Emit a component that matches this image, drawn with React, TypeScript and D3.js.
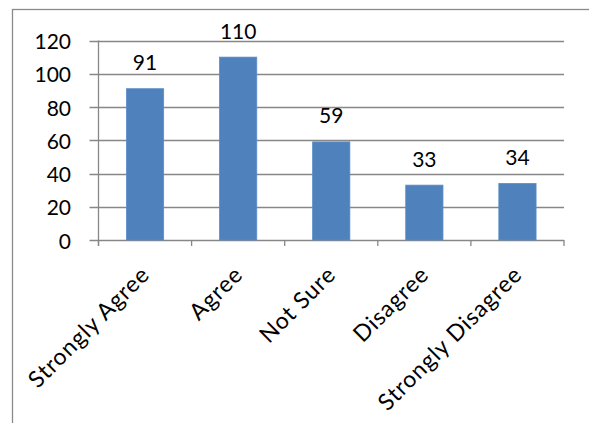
import React from "react";
import * as d3 from "d3";

const categories = ["Strongly Agree", "Agree", "Not Sure", "Disagree", "Strongly Disagree"];
const values = [91, 110, 59, 33, 34];
const yTicks = [0, 20, 40, 60, 80, 100, 120];

const W = 589;
const H = 423;
const plot = { left: 98.5, right: 564, top: 40.5, bottom: 240 };
const FONT = "Lato, 'Open Sans', sans-serif";
const GRID = "#878787";
const BAR = "#4F81BD";

export default function App() {
  const x = d3
    .scaleBand<string>()
    .domain(categories)
    .range([plot.left, plot.right])
    .paddingInner(0.6)
    .paddingOuter(0.3);
  const y = d3.scaleLinear().domain([0, 120]).range([plot.bottom, plot.top]);
  const step = x.step();
  const boundaries = d3.range(categories.length + 1).map((i) => plot.left + i * step);

  return (
    <svg
      width={W}
      height={H}
      style={{ position: "absolute", left: 0, top: 0, background: "#fff" }}
      fontFamily={FONT}
    >
      <rect x={0} y={0} width={W} height={H} fill="#fff" />
      <rect x={12.5} y={9.5} width={W + 20} height={H + 20} fill="none" stroke="#8a8a8a" strokeWidth={1.3} />
      {/* gridlines */}
      {yTicks.map((t) => (
        <line
          key={"g" + t}
          x1={plot.left - 9}
          x2={plot.right}
          y1={Math.round(y(t)) + 0.5}
          y2={Math.round(y(t)) + 0.5}
          stroke={GRID}
          strokeWidth={1.3}
        />
      ))}
      {/* y axis */}
      <line x1={plot.left} x2={plot.left} y1={plot.top} y2={plot.bottom + 6} stroke={GRID} strokeWidth={1.3} />
      {/* x axis tick marks */}
      {boundaries.map((bx, i) => (
        <line key={"xt" + i} x1={bx} x2={bx} y1={plot.bottom} y2={plot.bottom + 6} stroke={GRID} strokeWidth={1.3} />
      ))}
      {/* y tick labels */}
      {yTicks.map((t) => (
        <text
          key={"yl" + t}
          x={71}
          y={y(t)}
          textAnchor="end"
          dominantBaseline="central"
          fontSize={21}
          fill="#000"
        >
          {t}
        </text>
      ))}
      {/* bars */}
      {categories.map((c, i) => (
        <rect
          key={"b" + c}
          x={x(c)}
          y={y(values[i])}
          width={x.bandwidth()}
          height={y(0) - y(values[i])}
          fill={BAR}
          stroke="#5b8cc6"
          strokeWidth={0.8}
        />
      ))}
      {/* data labels */}
      {categories.map((c, i) => (
        <text
          key={"dl" + c}
          x={(x(c) as number) + x.bandwidth() / 2}
          y={y(values[i]) - 18.5}
          textAnchor="middle"
          fontSize={21}
          fill="#000"
        >
          {values[i]}
        </text>
      ))}
      {/* category labels */}
      {categories.map((c) => {
        const cx = (x(c) as number) + x.bandwidth() / 2 + 6;
        const cy = 276;
        return (
          <text
            key={"cl" + c}
            transform={`translate(${cx},${cy}) rotate(-45)`}
            textAnchor="end"
            fontSize={23}
            letterSpacing={0.9}
            fill="#000"
          >
            {c}
          </text>
        );
      })}
    </svg>
  );
}
